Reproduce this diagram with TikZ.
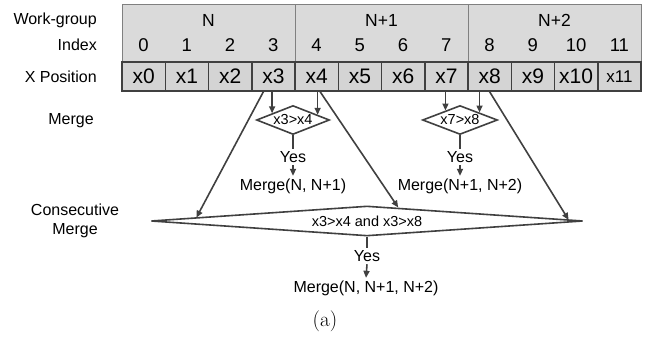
\documentclass[tikz,border=0pt]{standalone}
\usepackage{fontspec}
\setmainfont{Liberation Sans}
\newfontfamily\lmfont{Latin Modern Roman}
\usetikzlibrary{shapes.geometric,arrows.meta,calc}
\definecolor{ln}{HTML}{404040}
\definecolor{cellfill}{HTML}{D4D4D4}
\definecolor{hdrfill}{HTML}{DADADA}
\definecolor{hdrline}{HTML}{808080}
\tikzset{
  cellbox/.style={draw=ln, fill=cellfill, line width=1.5pt, minimum width=43.25pt, minimum height=29pt, inner sep=0pt, font=\fontsize{21}{23}\selectfont},
  idx/.style={font=\fontsize{18.5}{20}\selectfont, inner sep=0pt},
  grp/.style={font=\fontsize{17.5}{19}\selectfont, inner sep=0pt},
  lbl/.style={font=\fontsize{16}{19}\selectfont, inner sep=0pt, align=center},
  txt/.style={font=\fontsize{16}{18}\selectfont, inner sep=2.5pt},
  dia/.style={diamond, draw=ln, line width=1.6pt, fill=white, inner sep=0pt, font=\fontsize{14.5}{16}\selectfont},
  arr/.style={draw=ln, line width=1.6pt, -{Triangle[length=7pt,width=6pt]}},
  ln/.style={draw=ln, line width=1.6pt},
}
\begin{document}
\begin{tikzpicture}[x=1pt,y=-1pt]
\useasboundingbox (0,0) rectangle (651,339);
% header
\draw[hdrline, fill=hdrfill, line width=1pt] (122,5) rectangle (641,62);
\draw[hdrline, line width=1pt] (295,5) -- (295,62) (468,5) -- (468,62);
\node[grp] (gN) at (208.5,20) {N};
\node[grp] (gN1) at (381.5,20) {N+1};
\node[grp] (gN2) at (554.5,20) {N+2};
\foreach \i in {0,...,11} {
  \node[idx] (i\i) at ({122+43.25*(\i+0.5)},45) {\i};
}
\foreach \i in {0,...,10} {
  \node[cellbox] (c\i) at ({122+43.25*(\i+0.5)},76.5) {x\i};
}
\node[cellbox, font=\fontsize{17}{19}\selectfont] (c11) at ({122+43.25*11.5},76.5) {x11};
% left labels
\node[lbl, anchor=east] (lw) at (97,20) {Work-group};
\node[lbl, anchor=east] (li) at (97,45) {Index};
\node[lbl, anchor=east] (lx) at (97,76.5) {X Position};
\node[lbl] (lm) at (71,121) {Merge};
\node[lbl] (lc) at (75,221) {Consecutive\\Merge};
% diamonds
\node[dia, aspect=2.57, minimum width=73pt, minimum height=29pt] (d1) at (293,120) {x3>x4};
\node[dia, aspect=2.64, minimum width=75pt, minimum height=29pt] (d2) at (460,120) {x7>x8};
\node[dia, aspect=14.4, minimum width=432pt, minimum height=30pt] (D) at (367,221) {x3>x4 and x3>x8};
% yes / merge
\node[txt] (y1) at (293,157) {Yes};
\node[txt] (m1) at (293,186) {Merge(N, N+1)};
\node[txt] (y2) at (460,157) {Yes};
\node[txt] (m2) at (460,186) {Merge(N+1, N+2)};
\node[txt] (Y) at (367,256) {Yes};
\node[txt] (M) at (366,288) {Merge(N, N+1, N+2)};
\node[font=\lmfont\fontsize{21}{23}\selectfont, inner sep=0pt] (cap) at (325,321) {(a)};
% targets
\coordinate (t1) at ($(d1.west)!0.44!(d1.north)$);
\coordinate (t2) at ($(d1.north)!0.66!(d1.east)$);
\coordinate (t3) at ($(d2.west)!0.62!(d2.north)$);
\coordinate (t4) at ($(d2.north)!0.51!(d2.east)$);
\coordinate (T1) at ($(D.west)!0.213!(D.north)$);
\coordinate (T2) at ($(D.north)!0.144!(D.east)$);
\coordinate (T3) at ($(D.north)!0.93!(D.east)$);
% arrows
\draw[arr] (c3.south -| t1) -- (t1);
\draw[arr] (c4.south -| t2) -- (t2);
\draw[arr] (c7.south -| t3) -- (t3);
\draw[arr] (c8.south -| t4) -- (t4);
\draw[arr] ([xshift=-10pt]c3.south) -- (T1);
\draw[arr] ([xshift=3.5pt]c4.south) -- (T2);
\draw[arr] (c8.south) -- (T3);
\draw[ln] (d1.south) -- (y1.north);
\draw[arr] (y1.south) -- (m1.north);
\draw[ln] (d2.south) -- (y2.north);
\draw[arr] (y2.south) -- (m2.north);
\draw[ln] (D.south) -- (Y.north);
\draw[arr] (Y.south) -- (M.north);
\end{tikzpicture}
\end{document}
